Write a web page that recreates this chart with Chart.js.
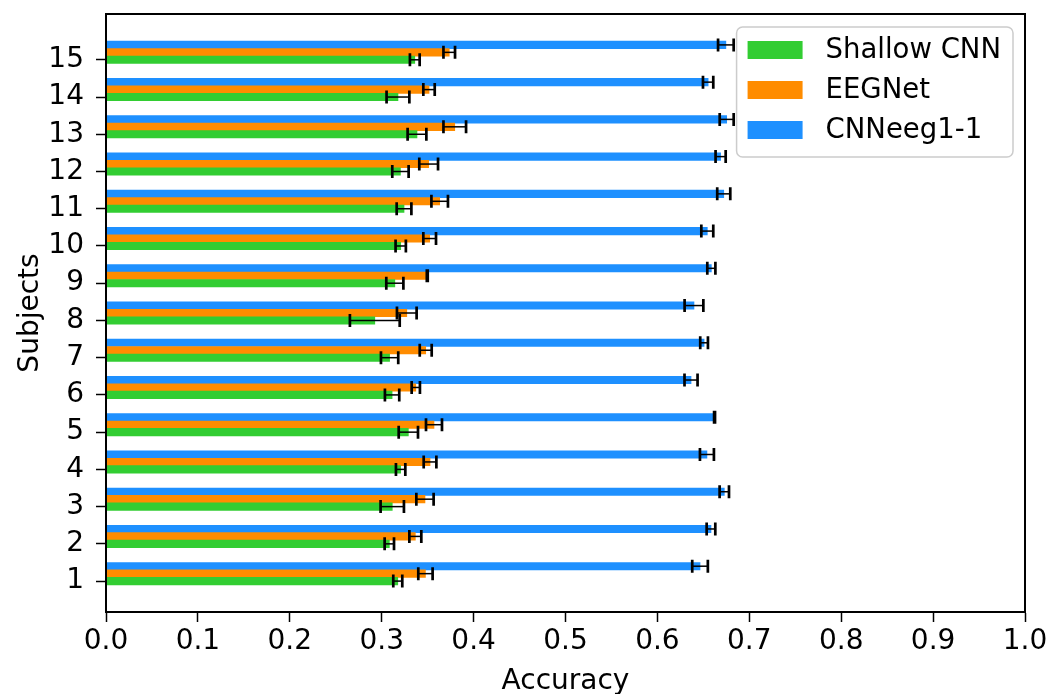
<!DOCTYPE html>
<html>
<head>
<meta charset="utf-8">
<script src="https://cdn.jsdelivr.net/npm/chart.js@4"></script>
<style>
  html, body { margin: 0; padding: 0; background: #ffffff; }
  #wrap { width: 1050px; height: 694px; }
</style>
</head>
<body>
<div id="wrap"><canvas id="chart" width="1050" height="694"></canvas></div>
<script>
// Mean accuracy per subject and its spread (half-width of the error bar)
const subjects = [1, 2, 3, 4, 5, 6, 7, 8, 9, 10, 11, 12, 13, 14, 15];

const shallowAcc = [0.3175, 0.3083, 0.3115, 0.3206, 0.3290, 0.3113, 0.3086, 0.2925,
                    0.3143, 0.3207, 0.3243, 0.3204, 0.3384, 0.3177, 0.3360];
const shallowErr = [0.0049, 0.0051, 0.0127, 0.0051, 0.0105, 0.0078, 0.0094, 0.0271,
                    0.0093, 0.0056, 0.0080, 0.0089, 0.0102, 0.0124, 0.0053];

const eegnetAcc = [0.3476, 0.3366, 0.3471, 0.3526, 0.3569, 0.3371, 0.3479, 0.3273,
                   0.3496, 0.3522, 0.3631, 0.3511, 0.3795, 0.3515, 0.3735];
const eegnetErr = [0.0078, 0.0065, 0.0094, 0.0069, 0.0087, 0.0045, 0.0065, 0.0107,
                   0.0005, 0.0069, 0.0090, 0.0102, 0.0123, 0.0062, 0.0063];

const cnneegAcc = [0.6464, 0.6583, 0.6728, 0.6539, 0.6622, 0.6366, 0.6508, 0.6398,
                   0.6587, 0.6543, 0.6722, 0.6688, 0.6754, 0.6552, 0.6745];
const cnneegErr = [0.0085, 0.0047, 0.0051, 0.0076, 0.0005, 0.0071, 0.0042, 0.0102,
                   0.0044, 0.0065, 0.0071, 0.0055, 0.0076, 0.0056, 0.0085];

const seriesNames = ['Shallow CNN', 'EEGNet', 'CNNeeg1-1'];
const xTicks = [0.0, 0.1, 0.2, 0.3, 0.4, 0.5, 0.6, 0.7, 0.8, 0.9, 1.0];

// Each bar is 0.2 subject-units thick; the three models stack upward from the tick
const BAR = 0.2;
function rows(values, slot) {
  return values.map((v, i) => ({ x: v, y: subjects[i] + slot * BAR }));
}

const yLo = subjects[0] - BAR / 2;
const yHi = subjects[subjects.length - 1] + 2 * BAR + BAR / 2;
const yPad = 0.05 * (yHi - yLo);

const FONT = 'DejaVu Sans';
Chart.defaults.font.family = FONT;
Chart.defaults.font.size = 28;
Chart.defaults.color = '#000000';

// Error bars with caps, placed on each drawn bar element
const errorBars = {
  id: 'errorBars',
  afterDatasetsDraw(chart) {
    const ctx = chart.ctx;
    const xs = chart.scales.x;
    chart.data.datasets.forEach((ds, di) => {
      const meta = chart.getDatasetMeta(di);
      meta.data.forEach((bar, i) => {
        const v = ds.data[i].x;
        const e = ds.errors[i];
        const x0 = xs.getPixelForValue(v - e);
        const x1 = xs.getPixelForValue(v + e);
        const y = bar.y;
        ctx.save();
        ctx.strokeStyle = '#000000';
        ctx.lineWidth = 1.5;
        ctx.beginPath();
        ctx.moveTo(x0, y);
        ctx.lineTo(x1, y);
        ctx.stroke();
        ctx.lineWidth = 2.7;
        ctx.beginPath();
        ctx.moveTo(x0, y - 6.5); ctx.lineTo(x0, y + 6.5);
        ctx.moveTo(x1, y - 6.5); ctx.lineTo(x1, y + 6.5);
        ctx.stroke();
        ctx.restore();
      });
    });
    // axes frame on top of the bars
    const a = chart.chartArea;
    ctx.save();
    ctx.strokeStyle = '#000000';
    ctx.lineWidth = 2;
    ctx.strokeRect(a.left, a.top, a.right - a.left, a.bottom - a.top);
    ctx.restore();
  }
};

// Legend box in the upper right of the plot area
const boxLegend = {
  id: 'boxLegend',
  afterDraw(chart) {
    const ctx = chart.ctx;
    const a = chart.chartArea;
    ctx.save();
    ctx.font = '27.5px "' + FONT + '"';
    const maxW = Math.max(...chart.data.datasets.map(d => ctx.measureText(d.label).width));
    const w = 89 + maxW + 12;
    const h = 130;
    const x = a.right - 12 - w;
    const y = a.top + 13;
    ctx.beginPath();
    ctx.roundRect(x, y, w, h, 6);
    ctx.fillStyle = 'rgba(255,255,255,0.8)';
    ctx.fill();
    ctx.strokeStyle = '#cccccc';
    ctx.lineWidth = 1.5;
    ctx.stroke();
    ctx.textBaseline = 'middle';
    chart.data.datasets.forEach((d, i) => {
      const cy = y + 23 + i * 40;
      ctx.fillStyle = d.backgroundColor;
      ctx.fillRect(x + 11, cy - 9, 55, 18);
      ctx.fillStyle = '#000000';
      ctx.fillText(d.label, x + 89, cy + 1);
    });
    ctx.restore();
  }
};

new Chart(document.getElementById('chart'), {
  type: 'bar',
  data: {
    datasets: [
      { label: seriesNames[0], data: rows(shallowAcc, 0), errors: shallowErr, backgroundColor: '#32cd32' },
      { label: seriesNames[1], data: rows(eegnetAcc, 1), errors: eegnetErr, backgroundColor: '#ff8c00' },
      { label: seriesNames[2], data: rows(cnneegAcc, 2), errors: cnneegErr, backgroundColor: '#1e90ff' }
    ]
  },
  options: {
    indexAxis: 'y',
    responsive: false,
    animation: false,
    grouped: false,
    categoryPercentage: 1.0,
    barPercentage: 1.0,
    layout: { padding: { left: 14, top: 14, right: 25, bottom: 0 } },
    plugins: {
      legend: { display: false },
      tooltip: { enabled: false }
    },
    scales: {
      x: {
        type: 'linear',
        min: 0,
        max: 1,
        offset: false,
        afterBuildTicks(scale) { scale.ticks = xTicks.map(v => ({ value: v })); },
        afterFit(scale) { scale.height = 82; scale.paddingLeft = 0; scale.paddingRight = 0; },
        ticks: {
          callback: v => Number(v).toFixed(1),
          padding: 3,
          maxRotation: 0,
          autoSkip: false
        },
        grid: { offset: false, drawOnChartArea: false, drawTicks: true, tickLength: 10, tickColor: '#000000', tickWidth: 1.5 },
        border: { display: true, color: '#000000', width: 2 },
        title: { display: true, text: 'Accuracy', font: { size: 28, lineHeight: 0.9 }, padding: 0 }
      },
      y: {
        type: 'linear',
        min: yLo - yPad,
        max: yHi + yPad,
        offset: false,
        afterBuildTicks(scale) { scale.ticks = subjects.map(v => ({ value: v })); },
        afterFit(scale) { scale.width = 92; scale.paddingTop = 0; scale.paddingBottom = 0; },
        ticks: { callback: v => String(v), padding: 12, autoSkip: false },
        grid: { offset: false, drawOnChartArea: false, drawTicks: true, tickLength: 10, tickColor: '#000000', tickWidth: 1.5 },
        border: { display: true, color: '#000000', width: 2 },
        title: { display: true, text: 'Subjects', font: { size: 28 }, padding: 0 }
      }
    }
  },
  plugins: [errorBars, boxLegend]
});
</script>
</body>
</html>
